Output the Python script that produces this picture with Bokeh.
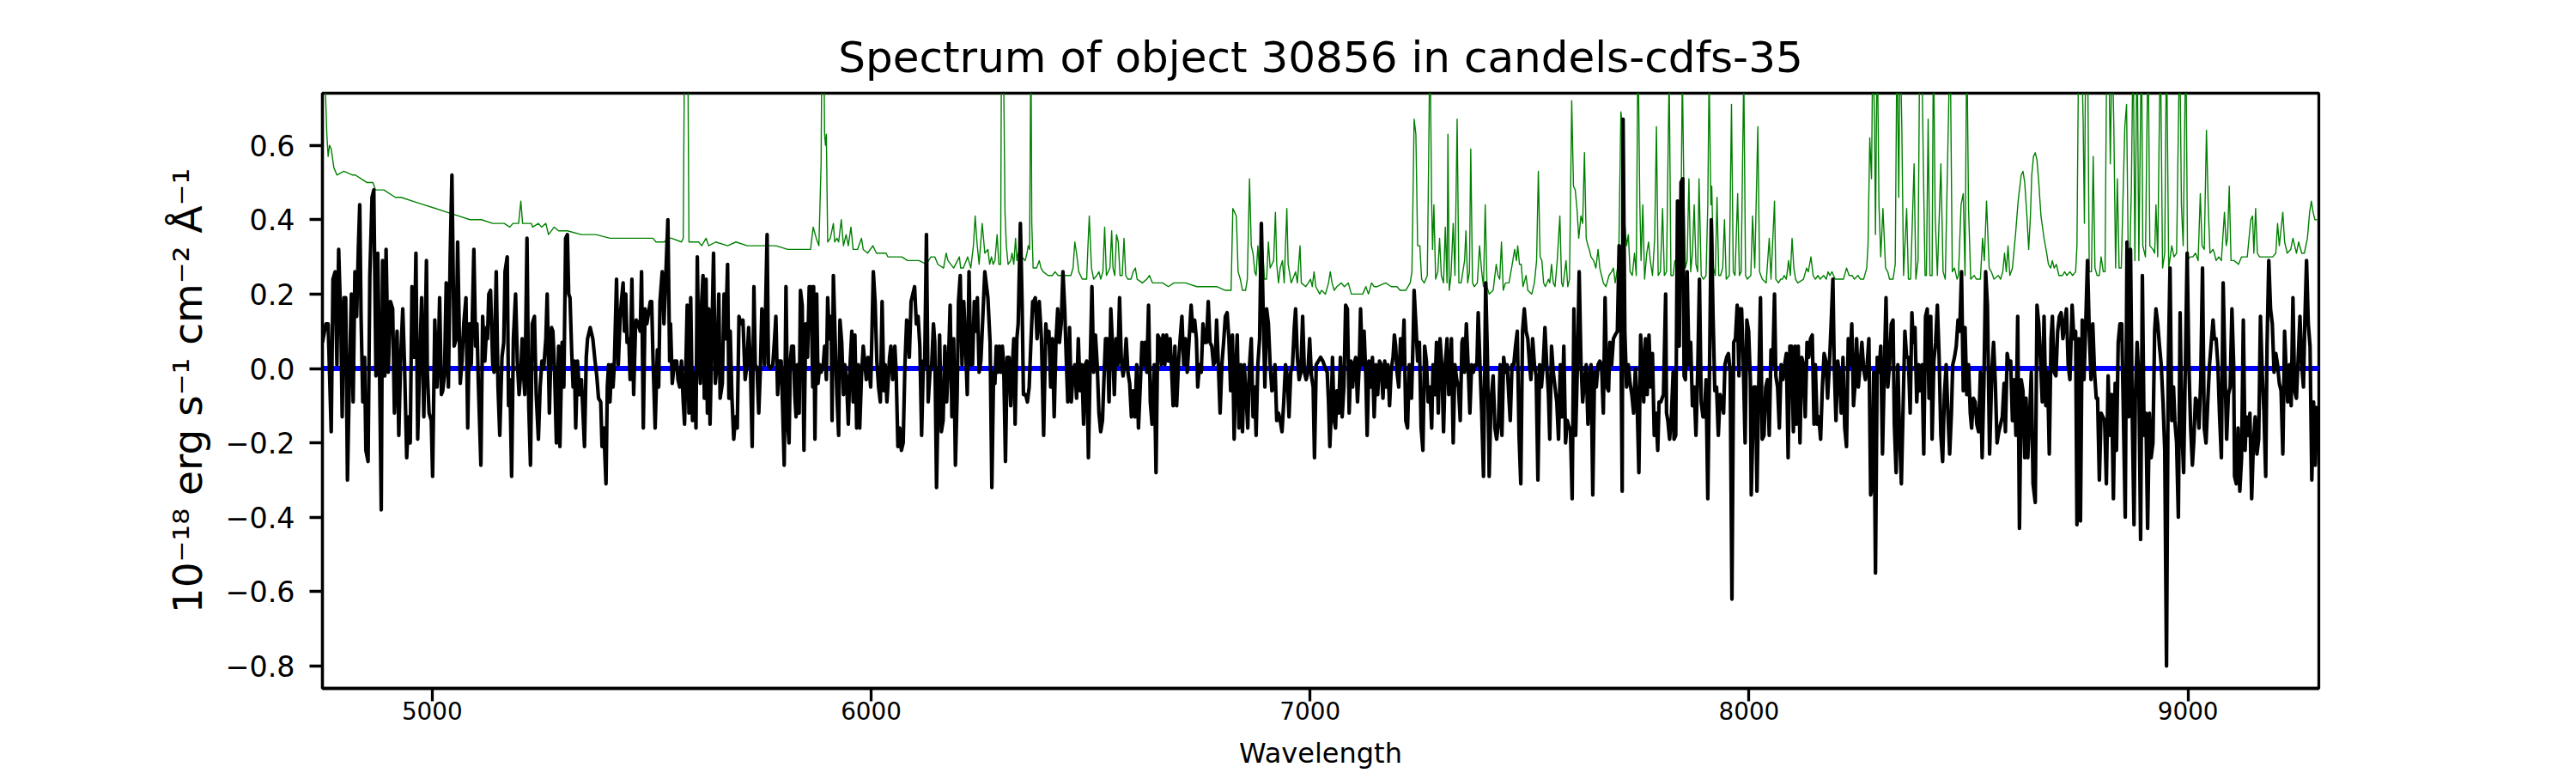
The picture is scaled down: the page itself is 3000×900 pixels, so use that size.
from bokeh.plotting import figure
from bokeh.models import Range1d, FixedTicker, CustomJSTickFormatter, ColumnDataSource
from bokeh.embed import file_html
from bokeh.resources import INLINE

# ---------------- data ----------------
title_text = "Spectrum of object 30856 in candels-cdfs-35"
x_label = "Wavelength"
y_label = "10\u207b\u00b9\u2078 erg s\u207b\u00b9 cm\u207b\u00b2 \u00c5\u207b\u00b9"
x_ticks = [5000, 6000, 7000, 8000, 9000]
y_ticks = [-0.8, -0.6, -0.4, -0.2, 0.0, 0.2, 0.4, 0.6]
x_limits = (4750, 9298)
y_limits = (-0.86, 0.74)

# observed flux (black), pairs (wavelength, flux)
flux_4750_5500 = [(4750,0.07),(4758,0.12),(4763,0.12),(4770,-0.17),(4774,0.24),(4779,0.26),(4783,0.01),(4787,0.32),(4792,0.12),(4795,-0.13),(4799,0.19),(4803,0.19),(4807,-0.30),(4812,0.01),(4816,0.20),(4820,-0.09),(4824,0.26),(4828,0.14),(4832,0.33),(4835,0.44),(4838,0.14),(4842,-0.09),(4846,0.03),(4849,-0.22),(4854,-0.25),(4858,0.25),(4863,0.46),(4867,0.48),(4872,-0.02),(4876,0.31),(4880,0.01),(4884,-0.38),(4887,0.29),(4892,-0.02),(4895,0.32),(4900,-0.01),(4905,0.18),(4910,0.16),(4914,-0.12),(4920,0.10),(4924,-0.18),(4928,0.02),(4933,0.16),(4937,0.01),(4942,-0.24),(4946,-0.13),(4950,-0.20),(4954,0.22),(4959,0.03),(4963,0.31),(4967,-0.19),(4972,0.03),(4976,0.19),(4981,-0.13),(4987,0.29),(4989,-0.01),(4993,-0.12),(4998,-0.14),(5001,-0.29),(5006,0.13),(5011,-0.05),(5014,0.03),(5017,0.19),(5021,-0.07),(5024,-0.06),(5028,-0.02),(5032,0.23),(5037,-0.05),(5041,0.30),(5045,0.52),(5050,0.06),(5055,0.08),(5058,0.34),(5064,-0.04),(5068,0.02),(5072,0.12),(5077,0.19),(5081,-0.16),(5085,0.12),(5089,0.01),(5095,0.32),(5099,0.06),(5102,0.12),(5105,-0.03),(5111,-0.26),(5115,0.14),(5120,0.02),(5124,0.11),(5126,0.08),(5129,0.20),(5133,0.21),(5138,0.01),(5141,-0.01),(5146,0.26),(5150,-0.05),(5154,-0.18),(5159,0.03),(5163,0.07),(5166,0.26),(5171,0.30),(5174,-0.10),(5177,-0.03),(5181,-0.29),(5185,0.08),(5190,0.20),(5194,0.02),(5198,-0.07),(5202,-0.01),(5205,0.08),(5207,0.01),(5211,-0.07),(5213,0.08),(5216,0.35),(5220,-0.10),(5224,-0.26),(5228,0.12),(5233,0.14),(5237,-0.07),(5242,-0.19),(5246,-0.05),(5250,0.02),(5254,0.00),(5259,0.08),(5262,0.20),(5267,-0.12),(5272,0.11),(5275,0.10),(5279,-0.01),(5283,-0.20),(5288,0.06),(5291,-0.21),(5296,0.07),(5300,-0.05),(5304,0.35),(5308,0.36),(5311,0.20),(5314,0.19),(5318,0.04),(5321,-0.05),(5324,0.02),(5327,-0.16),(5331,0.02),(5336,-0.07),(5340,-0.03),(5344,-0.13),(5347,-0.21),(5351,0.03),(5354,0.08),(5360,0.11),(5366,0.08),(5371,0.02),(5375,-0.02),(5379,-0.08),(5384,-0.09),(5387,-0.21),(5391,-0.16),(5396,-0.31),(5399,-0.05),(5402,0.01),(5405,-0.09),(5409,0.01),(5412,-0.05),(5415,0.01),(5420,0.24),(5424,0.01),(5428,0.13),(5431,0.18),(5435,0.23),(5438,0.10),(5441,0.20),(5444,0.07),(5448,0.08),(5451,-0.03),(5455,0.24),(5459,-0.07),(5463,0.10),(5465,0.13),(5470,0.12),(5474,0.10),(5477,0.26),(5481,-0.16),(5485,0.16),(5489,0.12),(5497,0.18)]
flux_5500_6260 = [(5500,0.18),(5503,0.03),(5508,-0.16),(5513,0.05),(5516,-0.05),(5519,0.18),(5524,0.26),(5528,0.12),(5530,0.18),(5537,0.40),(5541,0.02),(5543,0.12),(5547,-0.04),(5552,0.02),(5557,0.02),(5560,-0.03),(5564,-0.05),(5568,0.02),(5572,-0.09),(5575,-0.15),(5578,0.01),(5581,0.17),(5585,-0.12),(5589,0.19),(5593,-0.14),(5598,-0.01),(5601,-0.16),(5604,0.30),(5607,0.06),(5611,-0.04),(5614,0.18),(5617,0.25),(5620,-0.08),(5624,0.24),(5627,-0.12),(5630,0.16),(5633,-0.15),(5637,0.08),(5641,0.31),(5645,-0.04),(5649,0.01),(5653,0.20),(5656,-0.08),(5661,-0.04),(5665,0.20),(5668,0.08),(5673,0.28),(5676,-0.08),(5679,0.10),(5683,-0.08),(5687,-0.19),(5691,-0.13),(5695,-0.16),(5699,0.14),(5703,0.12),(5708,0.13),(5713,-0.03),(5717,0.01),(5721,0.11),(5725,0.01),(5729,-0.21),(5733,0.22),(5736,0.01),(5740,0.00),(5744,-0.12),(5748,0.01),(5751,0.16),(5755,0.12),(5757,0.01),(5763,0.36),(5766,0.01),(5770,0.00),(5776,0.01),(5780,0.08),(5783,0.14),(5787,-0.07),(5791,0.02),(5795,0.02),(5798,-0.09),(5802,-0.26),(5806,0.22),(5810,-0.15),(5813,-0.20),(5816,0.02),(5819,0.06),(5823,0.06),(5826,-0.07),(5829,-0.13),(5832,0.01),(5836,-0.12),(5839,0.21),(5843,0.17),(5847,-0.22),(5851,0.12),(5855,0.03),(5859,0.22),(5863,0.22),(5867,-0.05),(5869,0.22),(5872,-0.19),(5876,0.20),(5879,-0.04),(5883,0.01),(5886,-0.01),(5891,0.01),(5894,0.06),(5898,-0.03),(5901,0.19),(5905,0.08),(5909,0.14),(5911,-0.14),(5914,0.25),(5918,0.08),(5922,-0.07),(5926,-0.18),(5929,0.13),(5933,0.07),(5937,-0.07),(5940,0.01),(5944,-0.03),(5948,-0.15),(5952,0.01),(5956,0.10),(5959,-0.09),(5963,0.09),(5967,-0.16),(5971,0.01),(5974,-0.16),(5978,-0.02),(5982,0.06),(5986,0.01),(5989,-0.03),(5993,0.03),(5999,-0.05),(6002,0.10),(6005,0.26),(6009,0.18),(6013,0.02),(6017,-0.05),(6021,-0.09),(6025,0.18),(6029,-0.06),(6032,0.01),(6036,-0.09),(6042,0.03),(6045,0.06),(6049,-0.03),(6054,0.06),(6057,-0.01),(6061,-0.21),(6065,-0.16),(6069,-0.22),(6073,-0.20),(6077,0.01),(6081,0.13),(6083,0.12),(6087,0.03),(6091,0.18),(6095,0.20),(6099,0.22),(6103,0.12),(6107,0.14),(6111,0.06),(6115,-0.18),(6119,0.02),(6122,0.01),(6126,0.36),(6130,-0.09),(6134,-0.01),(6138,0.01),(6142,0.12),(6145,0.07),(6149,-0.32),(6152,-0.12),(6156,0.09),(6160,-0.17),(6164,-0.14),(6168,0.06),(6172,-0.09),(6176,0.01),(6180,0.17),(6184,-0.13),(6188,0.08),(6192,-0.26),(6196,-0.07),(6199,0.18),(6203,0.25),(6207,0.01),(6211,0.18),(6215,0.07),(6219,-0.07),(6223,0.26),(6227,0.01),(6231,0.01),(6235,0.18),(6239,0.10),(6242,0.19),(6246,-0.01),(6250,0.02),(6259,0.26)]
flux_6260_7025 = [(6266,0.19),(6271,0.07),(6275,-0.32),(6279,-0.01),(6282,-0.04),(6285,0.06),(6289,-0.01),(6292,0.06),(6296,-0.01),(6299,0.06),(6302,0.01),(6306,-0.25),(6310,0.03),(6314,0.03),(6318,-0.10),(6321,-0.01),(6325,0.08),(6328,-0.15),(6332,0.08),(6335,0.12),(6340,0.39),(6344,0.17),(6347,-0.07),(6352,-0.07),(6356,-0.09),(6360,-0.05),(6364,0.07),(6368,0.18),(6370,0.18),(6374,0.19),(6378,0.08),(6383,0.18),(6388,0.08),(6393,-0.18),(6398,0.12),(6401,0.07),(6405,0.10),(6409,-0.05),(6413,0.08),(6417,-0.13),(6421,0.07),(6425,0.16),(6429,0.07),(6433,0.12),(6437,0.26),(6441,0.16),(6445,0.01),(6448,-0.09),(6452,0.11),(6456,-0.09),(6460,-0.01),(6464,0.01),(6468,-0.08),(6472,0.08),(6476,-0.06),(6480,0.01),(6484,-0.15),(6488,0.01),(6491,0.02),(6495,-0.24),(6499,0.01),(6503,0.22),(6507,-0.01),(6511,0.09),(6515,0.01),(6519,-0.12),(6523,-0.17),(6527,-0.14),(6531,-0.01),(6534,0.08),(6538,0.08),(6542,-0.09),(6546,0.16),(6550,0.06),(6554,-0.07),(6558,0.08),(6562,0.01),(6566,0.19),(6570,0.02),(6574,-0.02),(6578,0.02),(6581,0.08),(6585,-0.01),(6589,-0.04),(6593,-0.13),(6597,-0.06),(6601,-0.13),(6605,0.01),(6609,-0.16),(6613,-0.05),(6617,0.07),(6621,0.01),(6624,0.07),(6628,-0.01),(6632,0.17),(6636,-0.09),(6640,-0.15),(6645,0.01),(6649,-0.28),(6653,0.09),(6657,0.08),(6661,0.01),(6665,0.09),(6669,0.01),(6673,0.09),(6677,0.02),(6681,0.08),(6684,0.01),(6688,-0.10),(6692,0.06),(6696,-0.10),(6700,0.01),(6704,0.08),(6708,0.14),(6712,0.01),(6716,0.08),(6720,-0.01),(6724,0.07),(6729,0.17),(6733,0.10),(6737,0.13),(6741,0.08),(6744,-0.05),(6748,0.01),(6752,-0.01),(6756,0.12),(6760,0.07),(6764,0.07),(6768,0.18),(6772,0.07),(6776,0.06),(6780,0.01),(6784,0.02),(6787,0.13),(6791,0.01),(6795,-0.12),(6799,0.01),(6803,0.07),(6807,0.14),(6811,0.15),(6815,0.08),(6819,-0.06),(6823,0.09),(6827,-0.19),(6831,0.01),(6834,0.09),(6838,-0.16),(6842,0.01),(6846,-0.17),(6850,0.01),(6854,-0.07),(6858,-0.16),(6862,0.01),(6866,0.08),(6870,-0.13),(6874,-0.05),(6877,-0.18),(6881,0.01),(6885,0.08),(6889,0.39),(6893,0.16),(6897,-0.05),(6901,0.16),(6905,0.12),(6909,0.01),(6913,-0.06),(6917,-0.05),(6920,0.01),(6924,-0.14),(6928,-0.12),(6932,-0.14),(6936,-0.17),(6940,-0.09),(6944,0.01),(6948,-0.02),(6952,-0.13),(6956,-0.01),(6960,0.01),(6964,0.11),(6967,0.16),(6971,0.03),(6975,-0.03),(6979,-0.01),(6983,0.14),(6987,-0.01),(6991,-0.03),(6995,-0.01),(6999,0.08),(7003,-0.02),(7007,-0.05),(7010,-0.24),(7014,0.01),(7024,0.03)]
flux_7025_7785 = [(7029,0.02),(7032,0.01),(7035,0.00),(7039,-0.01),(7042,-0.09),(7045,-0.21),(7048,-0.12),(7051,0.03),(7055,-0.14),(7058,-0.16),(7061,-0.06),(7065,-0.12),(7069,0.03),(7073,-0.13),(7077,-0.05),(7081,0.17),(7085,0.16),(7089,-0.12),(7093,0.02),(7097,-0.05),(7100,0.01),(7104,0.03),(7108,-0.09),(7112,0.01),(7115,0.16),(7119,0.01),(7123,0.10),(7127,-0.02),(7130,-0.18),(7134,0.02),(7138,-0.05),(7142,0.03),(7146,-0.13),(7150,0.01),(7154,-0.07),(7158,0.02),(7162,0.01),(7166,-0.08),(7170,0.02),(7174,-0.05),(7177,0.01),(7181,-0.10),(7185,0.00),(7189,0.03),(7192,0.09),(7195,0.06),(7198,-0.01),(7202,-0.05),(7206,0.08),(7210,0.01),(7214,0.13),(7218,-0.14),(7222,-0.16),(7226,0.01),(7231,-0.08),(7235,0.09),(7237,0.21),(7241,0.12),(7245,0.02),(7249,0.07),(7253,-0.16),(7257,-0.22),(7261,0.06),(7265,0.02),(7269,-0.09),(7273,-0.05),(7277,-0.16),(7280,0.01),(7284,-0.07),(7288,0.07),(7292,-0.12),(7296,0.08),(7300,0.01),(7304,-0.17),(7308,0.01),(7312,0.08),(7316,-0.07),(7320,0.01),(7322,0.08),(7326,-0.20),(7330,0.01),(7334,-0.03),(7338,-0.05),(7342,-0.14),(7346,0.07),(7348,0.08),(7352,-0.01),(7356,0.12),(7360,0.01),(7364,-0.12),(7368,0.01),(7372,-0.01),(7376,0.01),(7380,0.01),(7383,0.15),(7387,0.01),(7391,-0.12),(7395,-0.29),(7400,0.23),(7404,0.03),(7408,-0.29),(7412,-0.09),(7417,-0.02),(7421,-0.16),(7425,-0.19),(7429,-0.15),(7433,0.01),(7437,-0.18),(7441,0.03),(7445,-0.01),(7449,0.01),(7453,-0.08),(7456,-0.14),(7460,0.01),(7464,0.01),(7468,0.06),(7472,0.10),(7476,-0.18),(7480,-0.31),(7484,0.10),(7488,0.16),(7492,0.10),(7496,0.08),(7500,0.01),(7503,-0.03),(7507,0.08),(7511,0.01),(7515,-0.02),(7519,-0.30),(7523,0.01),(7527,-0.05),(7531,0.01),(7535,0.11),(7539,0.01),(7543,-0.07),(7546,-0.19),(7550,0.06),(7554,-0.01),(7558,-0.05),(7562,-0.09),(7566,-0.19),(7570,0.01),(7574,-0.13),(7578,0.06),(7582,-0.20),(7586,-0.14),(7590,-0.16),(7593,-0.16),(7597,-0.35),(7601,0.16),(7605,-0.18),(7609,0.01),(7613,0.26),(7617,0.02),(7621,-0.09),(7625,-0.03),(7629,0.01),(7633,-0.15),(7636,-0.03),(7640,0.01),(7644,-0.34),(7648,-0.01),(7652,-0.05),(7656,0.01),(7660,0.02),(7664,0.01),(7668,-0.12),(7672,0.19),(7676,-0.05),(7680,-0.06),(7683,0.07),(7687,0.01),(7691,0.08),(7695,0.09),(7700,0.10),(7704,0.33),(7708,0.10),(7711,-0.33),(7713,0.67),(7717,0.10),(7721,-0.05),(7725,0.01),(7729,-0.04),(7733,-0.07),(7737,-0.12),(7741,0.00),(7745,-0.09),(7749,-0.28),(7753,0.09),(7756,0.03),(7760,-0.09),(7764,0.08),(7768,-0.07),(7772,0.09),(7776,-0.05),(7780,0.04),(7784,-0.18)]
flux_7785_8550 = [(7788,-0.12),(7792,-0.22),(7795,-0.09),(7799,-0.09),(7805,-0.07),(7810,0.20),(7812,-0.12),(7815,-0.14),(7819,-0.19),(7823,-0.13),(7827,-0.01),(7829,-0.19),(7833,-0.18),(7837,0.45),(7841,0.06),(7845,0.50),(7849,0.51),(7852,-0.02),(7855,-0.03),(7859,0.26),(7863,0.01),(7867,0.07),(7871,-0.10),(7875,-0.05),(7879,-0.18),(7883,-0.01),(7887,0.24),(7891,-0.09),(7895,-0.13),(7898,-0.13),(7902,-0.03),(7906,-0.35),(7910,0.01),(7914,0.40),(7918,0.14),(7922,-0.06),(7926,-0.05),(7930,-0.18),(7934,-0.07),(7938,-0.09),(7942,-0.12),(7945,0.01),(7949,0.03),(7953,0.04),(7957,-0.01),(7961,-0.62),(7965,0.07),(7969,0.08),(7973,0.17),(7977,-0.02),(7979,0.16),(7983,0.16),(7987,0.01),(7991,-0.20),(7995,0.13),(7999,0.10),(8003,-0.03),(8005,-0.34),(8011,-0.05),(8015,-0.05),(8018,-0.33),(8022,-0.05),(8026,0.19),(8030,-0.19),(8034,-0.18),(8038,-0.05),(8042,-0.03),(8046,-0.18),(8050,0.05),(8054,0.01),(8058,0.20),(8061,-0.02),(8065,-0.05),(8069,-0.16),(8073,0.01),(8077,-0.03),(8081,0.01),(8085,0.04),(8089,-0.24),(8093,0.06),(8097,0.06),(8101,-0.17),(8105,0.06),(8108,-0.15),(8112,0.06),(8116,-0.20),(8120,0.03),(8124,0.01),(8128,-0.13),(8132,0.07),(8136,0.03),(8140,0.08),(8144,0.09),(8148,-0.15),(8151,0.01),(8155,-0.15),(8159,-0.13),(8163,-0.19),(8167,-0.05),(8171,0.04),(8175,0.02),(8179,-0.08),(8183,0.01),(8187,0.12),(8191,0.24),(8194,0.01),(8198,-0.14),(8202,0.02),(8206,-0.02),(8210,-0.12),(8214,0.03),(8218,-0.16),(8222,-0.21),(8226,0.08),(8230,0.01),(8234,0.12),(8238,-0.10),(8241,-0.05),(8245,0.08),(8249,-0.05),(8253,0.01),(8257,0.07),(8261,0.00),(8265,-0.03),(8269,0.01),(8273,0.08),(8277,-0.34),(8281,-0.31),(8284,-0.01),(8288,-0.55),(8292,0.03),(8296,-0.01),(8300,0.06),(8304,-0.23),(8308,-0.01),(8312,0.19),(8316,-0.05),(8320,0.01),(8324,0.12),(8328,0.13),(8331,-0.15),(8335,-0.28),(8339,0.01),(8343,-0.18),(8347,-0.31),(8351,-0.10),(8355,0.10),(8359,0.03),(8363,0.03),(8367,-0.12),(8371,0.15),(8374,0.07),(8378,0.11),(8382,-0.09),(8386,0.01),(8390,-0.06),(8394,0.01),(8398,-0.23),(8402,0.14),(8406,0.16),(8410,-0.08),(8414,0.14),(8417,-0.19),(8421,0.02),(8425,0.07),(8429,0.17),(8433,0.03),(8437,-0.18),(8441,-0.25),(8445,-0.07),(8449,0.01),(8453,-0.12),(8457,-0.23),(8461,-0.12),(8464,0.01),(8468,0.03),(8472,0.06),(8476,0.13),(8480,0.10),(8484,0.26),(8488,-0.06),(8492,0.11),(8496,-0.07),(8500,0.01),(8504,-0.12),(8507,-0.16),(8511,-0.08),(8515,-0.09),(8519,-0.15),(8523,-0.17),(8527,-0.01),(8531,-0.24),(8535,-0.04),(8539,0.26),(8543,0.17),(8548,-0.23)]
flux_8550_9300 = [(8553,-0.01),(8557,0.07),(8561,-0.04),(8565,-0.20),(8569,-0.17),(8573,-0.15),(8577,-0.13),(8581,-0.04),(8584,-0.17),(8588,0.04),(8592,0.01),(8596,0.02),(8600,-0.14),(8604,-0.03),(8608,-0.18),(8612,0.14),(8616,-0.43),(8620,-0.03),(8624,-0.06),(8628,-0.24),(8631,-0.08),(8635,-0.24),(8639,-0.13),(8643,-0.01),(8647,-0.31),(8652,-0.36),(8656,0.17),(8660,0.12),(8664,0.02),(8668,-0.09),(8672,0.14),(8676,-0.10),(8680,-0.01),(8684,-0.23),(8688,0.08),(8691,0.14),(8695,-0.01),(8699,-0.02),(8703,0.10),(8707,0.14),(8711,0.15),(8715,0.08),(8719,0.12),(8723,0.16),(8727,0.01),(8731,-0.03),(8736,0.17),(8740,0.08),(8744,0.10),(8747,-0.42),(8751,0.08),(8755,-0.41),(8759,0.13),(8763,-0.03),(8767,0.12),(8771,0.29),(8775,0.10),(8779,-0.03),(8783,0.12),(8787,-0.01),(8791,-0.08),(8794,-0.08),(8798,-0.30),(8802,-0.12),(8806,-0.13),(8810,-0.14),(8814,-0.31),(8818,-0.02),(8822,-0.18),(8826,-0.07),(8830,-0.35),(8834,-0.04),(8837,-0.22),(8841,0.07),(8845,0.12),(8849,0.12),(8853,-0.14),(8857,-0.40),(8861,0.34),(8865,-0.13),(8869,0.32),(8873,-0.13),(8877,-0.42),(8880,-0.08),(8884,0.07),(8888,-0.03),(8892,-0.46),(8896,0.25),(8900,-0.18),(8904,-0.12),(8908,-0.43),(8912,-0.12),(8916,-0.24),(8920,-0.20),(8924,0.10),(8927,0.16),(8931,0.12),(8935,0.06),(8939,0.01),(8943,-0.09),(8947,-0.22),(8951,-0.80),(8955,0.01),(8959,0.27),(8963,-0.14),(8967,-0.05),(8970,-0.14),(8974,-0.20),(8978,-0.40),(8982,0.15),(8986,-0.16),(8990,-0.28),(8994,0.01),(8998,0.31),(9002,0.01),(9006,-0.16),(9010,-0.26),(9013,-0.20),(9017,-0.08),(9021,-0.09),(9025,-0.16),(9029,-0.03),(9033,0.27),(9037,-0.16),(9041,-0.20),(9045,-0.09),(9049,0.01),(9053,0.07),(9057,0.13),(9060,0.08),(9064,0.08),(9068,0.01),(9072,-0.13),(9076,-0.24),(9080,0.23),(9084,0.01),(9088,-0.19),(9092,-0.07),(9096,-0.05),(9100,0.16),(9104,0.01),(9106,-0.29),(9110,-0.31),(9114,-0.16),(9118,-0.33),(9122,-0.24),(9126,0.13),(9130,-0.22),(9133,-0.13),(9137,-0.18),(9141,-0.12),(9145,-0.35),(9149,-0.20),(9153,-0.13),(9157,-0.23),(9161,-0.19),(9165,0.14),(9169,-0.01),(9173,-0.12),(9177,-0.29),(9180,0.06),(9184,0.29),(9188,0.16),(9192,0.12),(9196,-0.01),(9200,0.04),(9204,0.01),(9208,-0.04),(9212,-0.06),(9216,-0.23),(9220,0.10),(9223,0.01),(9227,-0.09),(9231,0.01),(9235,-0.10),(9239,0.19),(9243,-0.06),(9247,-0.08),(9251,0.03),(9255,0.14),(9259,0.01),(9263,-0.05),(9266,0.12),(9270,0.29),(9274,0.12),(9278,0.06),(9282,-0.30),(9286,-0.09),(9290,-0.26),(9294,-0.10)]

# noise / sky spectrum (green), pairs (wavelength, value); tall sky lines run past the top
sky_4750_5500 = [(4750,0.85),(4757,0.74),(4760,0.63),(4763,0.57),(4766,0.60),(4770,0.59),(4776,0.54),(4783,0.52),(4799,0.53),(4819,0.52),(4825,0.52),(4838,0.51),(4851,0.50),(4865,0.50),(4871,0.48),(4890,0.48),(4916,0.46),(4929,0.46),(4955,0.45),(4981,0.44),(5008,0.43),(5034,0.42),(5060,0.41),(5086,0.40),(5112,0.40),(5138,0.39),(5164,0.39),(5177,0.38),(5184,0.39),(5190,0.39),(5197,0.39),(5202,0.45),(5206,0.39),(5216,0.39),(5226,0.39),(5229,0.38),(5242,0.39),(5249,0.38),(5259,0.39),(5265,0.36),(5278,0.38),(5288,0.37),(5308,0.37),(5340,0.36),(5373,0.36),(5405,0.35),(5438,0.35),(5463,0.35),(5470,0.35),(5503,0.35)]
sky_5500_6260 = [(5510,0.34),(5529,0.34),(5536,0.35),(5545,0.35),(5568,0.34),(5572,0.35),(5575,0.9),(5579,0.9),(5583,0.74),(5585,0.34),(5588,0.34),(5598,0.34),(5607,0.34),(5614,0.33),(5624,0.35),(5630,0.33),(5646,0.34),(5673,0.33),(5692,0.34),(5718,0.33),(5744,0.33),(5770,0.33),(5783,0.33),(5810,0.32),(5836,0.32),(5862,0.32),(5868,0.38),(5875,0.35),(5881,0.33),(5886,0.55),(5888,0.9),(5892,0.9),(5894,0.63),(5896,0.60),(5898,0.63),(5901,0.34),(5907,0.35),(5914,0.39),(5917,0.34),(5922,0.35),(5926,0.34),(5932,0.40),(5937,0.33),(5943,0.36),(5948,0.33),(5954,0.38),(5959,0.32),(5969,0.32),(5978,0.35),(5982,0.32),(5992,0.31),(6004,0.33),(6012,0.31),(6025,0.31),(6034,0.31),(6038,0.30),(6057,0.30),(6070,0.30),(6083,0.29),(6109,0.29),(6126,0.28),(6136,0.30),(6145,0.30),(6152,0.28),(6165,0.27),(6171,0.31),(6175,0.29),(6188,0.27),(6201,0.30),(6204,0.27),(6210,0.27),(6220,0.30),(6227,0.27),(6233,0.33),(6237,0.41),(6241,0.34),(6246,0.28),(6253,0.39),(6259,0.31)]
sky_6260_7025 = [(6266,0.32),(6270,0.28),(6274,0.30),(6278,0.28),(6282,0.29),(6287,0.36),(6291,0.28),(6295,0.28),(6297,0.9),(6301,0.9),(6305,0.42),(6308,0.33),(6312,0.28),(6318,0.29),(6321,0.31),(6325,0.28),(6329,0.35),(6332,0.29),(6335,0.31),(6339,0.31),(6343,0.30),(6351,0.29),(6355,0.31),(6358,0.33),(6361,0.32),(6364,0.9),(6366,0.39),(6369,0.27),(6377,0.27),(6383,0.29),(6387,0.27),(6392,0.26),(6403,0.25),(6413,0.25),(6419,0.26),(6426,0.25),(6435,0.25),(6448,0.25),(6455,0.25),(6460,0.27),(6464,0.34),(6468,0.31),(6473,0.26),(6481,0.24),(6491,0.24),(6494,0.33),(6497,0.41),(6502,0.27),(6507,0.24),(6514,0.25),(6519,0.26),(6523,0.24),(6528,0.26),(6532,0.38),(6536,0.25),(6540,0.26),(6544,0.27),(6548,0.37),(6551,0.27),(6555,0.25),(6559,0.36),(6563,0.34),(6567,0.25),(6572,0.25),(6576,0.35),(6580,0.25),(6585,0.24),(6592,0.24),(6597,0.26),(6602,0.27),(6606,0.24),(6618,0.23),(6628,0.24),(6634,0.25),(6641,0.23),(6651,0.23),(6664,0.23),(6677,0.22),(6690,0.23),(6716,0.23),(6742,0.22),(6768,0.22),(6787,0.22),(6807,0.21),(6820,0.21),(6824,0.43),(6828,0.42),(6832,0.41),(6836,0.26),(6841,0.24),(6846,0.21),(6853,0.21),(6857,0.24),(6862,0.51),(6866,0.33),(6870,0.31),(6874,0.26),(6877,0.25),(6881,0.33),(6885,0.25),(6892,0.32),(6896,0.24),(6901,0.24),(6905,0.34),(6909,0.27),(6913,0.28),(6917,0.29),(6921,0.42),(6924,0.28),(6928,0.23),(6932,0.27),(6937,0.29),(6941,0.23),(6947,0.43),(6950,0.28),(6957,0.23),(6967,0.26),(6971,0.23),(6977,0.33),(6980,0.23),(6990,0.22),(6996,0.23),(7001,0.24),(7005,0.22),(7009,0.26),(7013,0.22),(7022,0.20)]
sky_7025_7790 = [(7026,0.21),(7035,0.20),(7042,0.23),(7046,0.26),(7050,0.23),(7055,0.21),(7061,0.22),(7071,0.23),(7078,0.22),(7087,0.23),(7094,0.20),(7107,0.20),(7120,0.20),(7127,0.22),(7133,0.20),(7140,0.23),(7146,0.22),(7153,0.22),(7172,0.23),(7185,0.22),(7198,0.22),(7205,0.21),(7218,0.21),(7228,0.23),(7232,0.26),(7237,0.67),(7241,0.63),(7245,0.33),(7250,0.33),(7254,0.24),(7260,0.23),(7267,0.25),(7270,0.55),(7273,0.9),(7277,0.44),(7279,0.32),(7282,0.44),(7286,0.24),(7291,0.26),(7295,0.35),(7299,0.25),(7304,0.23),(7308,0.38),(7312,0.23),(7314,0.63),(7317,0.21),(7321,0.25),(7326,0.39),(7330,0.25),(7335,0.67),(7339,0.23),(7344,0.23),(7348,0.26),(7352,0.29),(7355,0.37),(7359,0.23),(7363,0.26),(7366,0.59),(7370,0.23),(7374,0.22),(7381,0.23),(7386,0.33),(7391,0.26),(7395,0.22),(7399,0.44),(7403,0.22),(7408,0.20),(7417,0.21),(7424,0.28),(7428,0.25),(7432,0.24),(7436,0.34),(7440,0.21),(7445,0.23),(7453,0.23),(7459,0.27),(7466,0.32),(7470,0.29),(7473,0.33),(7477,0.28),(7481,0.28),(7485,0.22),(7492,0.25),(7496,0.21),(7505,0.20),(7511,0.23),(7516,0.29),(7520,0.53),(7524,0.30),(7528,0.29),(7532,0.23),(7536,0.22),(7543,0.24),(7546,0.23),(7550,0.28),(7554,0.23),(7558,0.22),(7563,0.29),(7569,0.41),(7573,0.23),(7576,0.22),(7583,0.29),(7587,0.22),(7591,0.24),(7596,0.72),(7600,0.49),(7604,0.48),(7608,0.43),(7612,0.35),(7617,0.41),(7621,0.39),(7625,0.58),(7629,0.35),(7633,0.33),(7636,0.32),(7640,0.30),(7646,0.29),(7651,0.27),(7656,0.32),(7660,0.27),(7664,0.25),(7668,0.23),(7674,0.22),(7681,0.25),(7687,0.26),(7691,0.27),(7695,0.23),(7699,0.26),(7703,0.29),(7708,0.69),(7712,0.65),(7716,0.40),(7721,0.33),(7725,0.36),(7729,0.26),(7734,0.25),(7739,0.31),(7743,0.25),(7747,0.9),(7751,0.45),(7754,0.29),(7758,0.44),(7762,0.24),(7767,0.31),(7771,0.34),(7775,0.29),(7780,0.25),(7785,0.35),(7789,0.65)]
sky_7790_8555 = [(7793,0.25),(7798,0.26),(7803,0.43),(7807,0.25),(7812,0.26),(7818,0.8),(7822,0.25),(7827,0.25),(7831,0.29),(7835,0.29),(7839,0.25),(7844,0.27),(7848,0.8),(7852,0.44),(7855,0.27),(7859,0.29),(7863,0.51),(7867,0.26),(7871,0.31),(7875,0.44),(7879,0.28),(7883,0.26),(7886,0.51),(7891,0.25),(7896,0.24),(7902,0.25),(7906,0.44),(7909,0.8),(7913,0.44),(7915,0.49),(7919,0.27),(7923,0.25),(7927,0.46),(7931,0.25),(7935,0.25),(7940,0.27),(7944,0.40),(7948,0.24),(7955,0.25),(7960,0.71),(7964,0.26),(7968,0.25),(7974,0.47),(7978,0.25),(7982,0.26),(7988,0.8),(7992,0.25),(7996,0.24),(8004,0.25),(8008,0.41),(8013,0.27),(8020,0.65),(8024,0.26),(8030,0.24),(8039,0.23),(8046,0.35),(8050,0.24),(8058,0.45),(8061,0.24),(8067,0.23),(8072,0.24),(8076,0.24),(8080,0.25),(8085,0.24),(8090,0.29),(8094,0.25),(8098,0.35),(8102,0.27),(8106,0.24),(8111,0.23),(8124,0.24),(8131,0.27),(8135,0.26),(8141,0.30),(8146,0.25),(8151,0.24),(8157,0.25),(8162,0.24),(8170,0.25),(8176,0.24),(8180,0.26),(8184,0.25),(8189,0.26),(8196,0.24),(8202,0.24),(8209,0.24),(8215,0.24),(8222,0.27),(8228,0.25),(8235,0.25),(8240,0.24),(8248,0.25),(8254,0.24),(8261,0.24),(8268,0.27),(8271,0.33),(8275,0.62),(8279,0.51),(8282,0.9),(8286,0.65),(8288,0.36),(8292,0.9),(8296,0.44),(8300,0.30),(8305,0.43),(8311,0.27),(8316,0.26),(8320,0.24),(8328,0.24),(8333,0.28),(8337,0.9),(8341,0.46),(8344,0.9),(8348,0.65),(8352,0.25),(8359,0.43),(8363,0.24),(8368,0.24),(8376,0.55),(8380,0.24),(8385,0.29),(8389,0.9),(8393,0.9),(8397,0.55),(8401,0.25),(8404,0.25),(8408,0.67),(8412,0.25),(8417,0.25),(8420,0.9),(8424,0.41),(8429,0.25),(8437,0.55),(8442,0.26),(8447,0.24),(8458,0.9),(8463,0.26),(8468,0.27),(8474,0.24),(8477,0.25),(8483,0.44),(8488,0.47),(8492,0.25),(8496,0.9),(8500,0.43),(8505,0.24),(8513,0.25),(8518,0.24),(8527,0.24),(8532,0.35),(8536,0.29),(8541,0.45),(8547,0.27),(8552,0.26)]
sky_8555_9300 = [(8558,0.24),(8568,0.25),(8573,0.24),(8578,0.26),(8582,0.31),(8586,0.26),(8590,0.33),(8594,0.25),(8600,0.27),(8607,0.36),(8613,0.45),(8620,0.52),(8624,0.53),(8628,0.50),(8633,0.41),(8637,0.32),(8641,0.41),(8644,0.52),(8648,0.57),(8652,0.58),(8656,0.56),(8660,0.50),(8665,0.41),(8672,0.35),(8678,0.31),(8682,0.28),(8687,0.27),(8691,0.29),(8695,0.27),(8700,0.28),(8706,0.25),(8714,0.25),(8719,0.26),(8724,0.25),(8731,0.26),(8737,0.25),(8744,0.26),(8747,0.33),(8751,0.9),(8757,0.9),(8761,0.67),(8764,0.39),(8767,0.9),(8771,0.9),(8775,0.26),(8780,0.26),(8784,0.57),(8788,0.27),(8793,0.25),(8798,0.25),(8802,0.30),(8807,0.26),(8811,0.26),(8815,0.9),(8819,0.9),(8823,0.55),(8827,0.9),(8831,0.65),(8835,0.27),(8839,0.51),(8843,0.27),(8848,0.27),(8853,0.51),(8856,0.65),(8860,0.71),(8864,0.28),(8867,0.27),(8871,0.49),(8875,0.9),(8879,0.29),(8884,0.9),(8888,0.29),(8894,0.9),(8897,0.33),(8903,0.30),(8909,0.9),(8913,0.33),(8920,0.32),(8924,0.31),(8927,0.44),(8931,0.30),(8937,0.9),(8942,0.27),(8947,0.31),(8951,0.9),(8956,0.27),(8963,0.33),(8968,0.30),(8974,0.31),(8981,0.9),(8985,0.44),(8989,0.33),(8995,0.9),(8999,0.29),(9004,0.30),(9011,0.30),(9017,0.31),(9023,0.29),(9028,0.47),(9032,0.33),(9037,0.32),(9042,0.64),(9046,0.44),(9050,0.31),(9057,0.32),(9060,0.31),(9064,0.29),(9070,0.30),(9076,0.29),(9083,0.42),(9087,0.33),(9090,0.35),(9094,0.49),(9098,0.29),(9105,0.29),(9115,0.28),(9122,0.30),(9128,0.30),(9135,0.30),(9143,0.40),(9147,0.41),(9150,0.31),(9154,0.43),(9158,0.31),(9163,0.30),(9174,0.30),(9187,0.30),(9193,0.30),(9200,0.31),(9204,0.39),(9208,0.33),(9216,0.42),(9220,0.34),(9226,0.31),(9234,0.32),(9239,0.35),(9243,0.33),(9247,0.31),(9252,0.34),(9259,0.31),(9265,0.31),(9272,0.35),(9277,0.42),(9281,0.45),(9285,0.42),(9289,0.40),(9294,0.40)]

# model / continuum (blue): flat at zero over the whole range
model_wave = [4750, 9298]
model_flux = [0.0, 0.0]

# ---------------- build sources ----------------
flux_segments = [flux_4750_5500, flux_5500_6260, flux_6260_7025,
                 flux_7025_7785, flux_7785_8550, flux_8550_9300]
sky_segments = [sky_4750_5500, sky_5500_6260, sky_6260_7025,
                sky_7025_7790, sky_7790_8555, sky_8555_9300]

flux_src = ColumnDataSource(dict(
    x=[w for seg in flux_segments for w, _ in seg],
    y=[v for seg in flux_segments for _, v in seg]))
sky_src = ColumnDataSource(dict(
    x=[w for seg in sky_segments for w, _ in seg],
    y=[v for seg in sky_segments for _, v in seg]))
model_src = ColumnDataSource(dict(x=model_wave, y=model_flux))

FONT = "DejaVu Sans"

p = figure(width=3000, height=900, output_backend="svg", toolbar_location=None,
           x_range=Range1d(*x_limits), y_range=Range1d(*y_limits),
           title=title_text,
           min_border_left=375, min_border_right=300,
           min_border_top=108, min_border_bottom=99)

p.background_fill_color = "white"
p.border_fill_color = "white"
p.outline_line_color = "black"
p.outline_line_width = 3.3
p.outline_line_alpha = 1.0
p.grid.visible = False

p.title.text_font = FONT
p.title.text_font_size = "50px"
p.title.text_font_style = "normal"
p.title.align = "center"
p.title.standoff = 26
p.title.text_color = "black"

p.line("x", "y", source=sky_src, line_color="#008000", line_width=1.4, line_join="round")
p.line("x", "y", source=model_src, line_color="#0000ff", line_width=6)
p.line("x", "y", source=flux_src, line_color="black", line_width=4.2, line_join="round")

for ax in (p.xaxis[0], p.yaxis[0]):
    ax.axis_line_width = 3.3
    ax.axis_line_color = "black"
    ax.major_tick_line_width = 3.3
    ax.major_tick_line_color = "black"
    ax.major_tick_out = 15
    ax.major_tick_in = 0
    ax.minor_tick_out = 0
    ax.minor_tick_in = 0
    ax.major_label_text_font = FONT
    ax.major_label_text_color = "black"
    ax.axis_label_text_font = FONT
    ax.axis_label_text_font_style = "normal"
    ax.axis_label_text_color = "black"

xa = p.xaxis[0]
xa.ticker = FixedTicker(ticks=x_ticks)
xa.major_label_text_font_size = "27.8px"
xa.major_label_standoff = 0
xa.axis_label = x_label
xa.axis_label_text_font_size = "32px"
xa.axis_label_standoff = 17

ya = p.yaxis[0]
ya.ticker = FixedTicker(ticks=y_ticks)
ya.formatter = CustomJSTickFormatter(code="return tick.toFixed(1).replace('-', '\\u2212');")
ya.major_label_text_font_size = "33.3px"
ya.major_label_standoff = 17
ya.axis_label = y_label
ya.axis_label_text_font_size = "47px"
ya.axis_label_standoff = 14

open("out.html", "w").write(file_html(p, INLINE))
